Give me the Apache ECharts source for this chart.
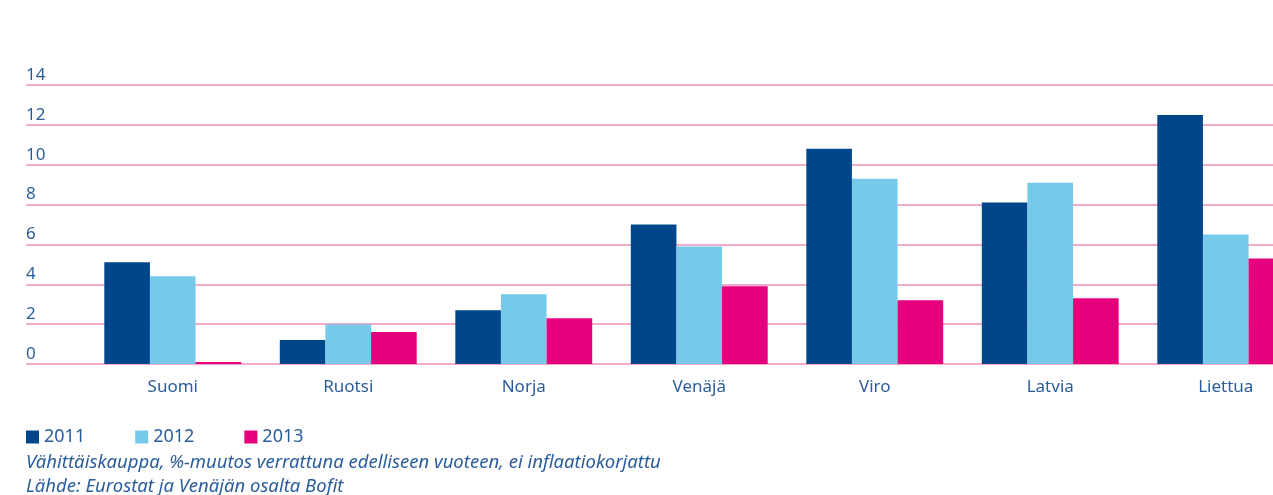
<!DOCTYPE html>
<html>
<head>
<meta charset="utf-8">
<script src="https://cdn.jsdelivr.net/npm/echarts@6/dist/echarts.min.js"></script>
<style>
    html, body { margin: 0; padding: 0; background: #fff; }
    #chart { width: 1273px; height: 495px; }
</style>
</head>
<body>
<div id="chart"></div>
<script>
    // maat
    const countries = ['Suomi', 'Ruotsi', 'Norja', 'Venäjä', 'Viro', 'Latvia', 'Liettua'];
    // vähittäiskaupan muutos %, luettu kuvasta
    const years = ['2011', '2012', '2013'];
    const v2011 = [5.1, 1.2, 2.7, 7.0, 10.8, 8.1, 12.5];
    const v2012 = [4.4, 2.0, 3.5, 5.9, 9.3, 9.1, 6.5];
    const v2013 = [0.1, 1.6, 2.3, 3.9, 3.2, 3.3, 5.3];
    const yTicks = [0, 2, 4, 6, 8, 10, 12, 14];

    const blueText = '#2b5d9b';
    const font = '"Noto Sans", "Open Sans", sans-serif';
    const colors = ['#00468b', '#76c9e9', '#e5007e'];

    const chart = echarts.init(document.getElementById('chart'));
    chart.setOption({
        animation: false,
        color: colors,
        textStyle: { fontFamily: font },
        grid: [
            // taustan vaakaviivat koko leveydeltä
            { left: 26, right: 0, top: 85, bottom: 131 },
            // pylväät, viimeinen ryhmä leikkautuu oikeasta reunasta
            { left: 85, width: 1228.5, top: 85, bottom: 131, outerBoundsMode: 'none' }
        ],
        legend: {
            data: years,
            left: 26,
            top: 428,
            padding: 0,
            icon: 'rect',
            itemWidth: 13,
            itemHeight: 13,
            itemGap: 50,
            textStyle: { color: blueText, fontSize: 18, fontFamily: font }
        },
        xAxis: [
            { gridIndex: 0, type: 'value', min: 0, max: 1, show: false },
            {
                gridIndex: 1,
                type: 'category',
                data: countries,
                axisLine: { show: false },
                axisTick: { show: false },
                axisLabel: { color: blueText, fontSize: 17, margin: 15 }
            }
        ],
        yAxis: [
            {
                gridIndex: 0,
                type: 'value',
                min: yTicks[0],
                max: yTicks[yTicks.length - 1],
                interval: 2,
                axisLine: { show: false },
                axisTick: { show: false },
                axisLabel: {
                    inside: true,
                    margin: 0,
                    align: 'left',
                    verticalAlign: 'bottom',
                    lineHeight: 20,
                    color: blueText,
                    fontSize: 17
                },
                splitLine: { lineStyle: { color: '#f4aacb', width: 2 } }
            },
            {
                gridIndex: 1,
                type: 'value',
                min: yTicks[0],
                max: yTicks[yTicks.length - 1],
                interval: 2,
                show: false,
                splitLine: { show: false }
            }
        ],
        series: [
            { name: years[0], type: 'bar', xAxisIndex: 1, yAxisIndex: 1, data: v2011, barGap: '0%', barCategoryGap: '22%' },
            { name: years[1], type: 'bar', xAxisIndex: 1, yAxisIndex: 1, data: v2012, barGap: '0%', barCategoryGap: '22%' },
            { name: years[2], type: 'bar', xAxisIndex: 1, yAxisIndex: 1, data: v2013, barGap: '0%', barCategoryGap: '22%' }
        ],
        graphic: [
            {
                type: 'text', left: 26, top: 453,
                style: { text: 'Vähittäiskauppa, %-muutos verrattuna edelliseen vuoteen, ei inflaatiokorjattu',
                    fill: blueText, font: 'italic 18.5px ' + font }
            },
            {
                type: 'text', left: 26, top: 477,
                style: { text: 'Lähde: Eurostat ja Venäjän osalta Bofit',
                    fill: blueText, font: 'italic 18.5px ' + font }
            }
        ]
    });
</script>
</body>
</html>
